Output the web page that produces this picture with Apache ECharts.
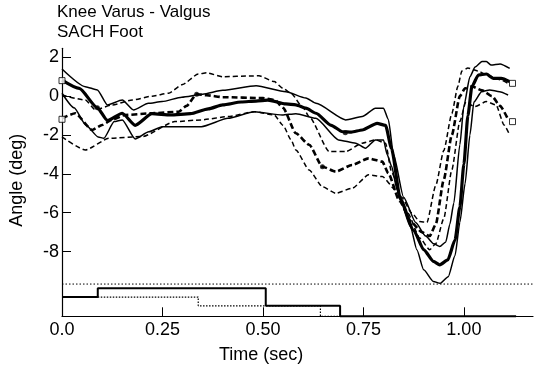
<!DOCTYPE html>
<html><head><meta charset="utf-8">
<script src="https://cdn.jsdelivr.net/npm/echarts@6/dist/echarts.min.js"></script>
<style>html,body{margin:0;padding:0;background:#fff}#c{width:535px;height:367px}</style>
</head><body><div id="c"></div>
<script>
// ---- data (time in sec, angle in deg) ----
var xTicks = [0, 0.25, 0.5, 0.75, 1.0];
var xTickLabels = ['0.0', '0.25', '0.50', '0.75', '1.00'];
var yTicks = [-8, -6, -4, -2, 0, 2];

var solidMean = [[0,0.83],[0.043,0.4],[0.088,-0.6],[0.113,-1.25],[0.15,-0.88],[0.182,-1.5],[0.224,-0.9],[0.27,-0.97],[0.32,-0.9],[0.364,-0.65],[0.40,-0.45],[0.446,-0.3],[0.483,-0.25],[0.512,-0.2],[0.557,-0.4],[0.582,-0.45],[0.607,-0.62],[0.632,-0.88],[0.67,-1.5],[0.698,-1.83],[0.72,-1.85],[0.747,-1.74],[0.784,-1.4],[0.805,-1.5],[0.82,-2.7],[0.842,-5.3],[0.875,-6.9],[0.9,-7.9],[0.924,-8.5],[0.94,-8.68],[0.96,-8.43],[0.978,-7.4],[0.99,-5.7],[1.0,-3.5],[1.01,-1.0],[1.02,0.5],[1.036,1.09],[1.056,1.14],[1.073,0.92],[1.093,0.92],[1.114,0.75]];
var solidUpper = [[0,1.4],[0.058,0.49],[0.088,0.32],[0.113,-0.45],[0.15,-0.2],[0.178,-0.71],[0.215,-0.37],[0.249,-0.28],[0.298,-0.05],[0.35,0.1],[0.40,0.3],[0.483,0.54],[0.557,0.23],[0.607,-0.1],[0.632,-0.37],[0.706,-1.22],[0.747,-1.05],[0.78,-0.62],[0.8,-0.62],[0.812,-1.2],[0.825,-3.0],[0.85,-5.2],[0.88,-6.5],[0.905,-7.2],[0.925,-7.6],[0.94,-7.74],[0.955,-7.5],[0.965,-6.6],[0.975,-5.5],[0.99,-2.5],[1.0,-0.5],[1.015,1.0],[1.028,1.5],[1.045,1.78],[1.056,1.78],[1.068,1.6],[1.09,1.66],[1.114,1.43]];
var solidLower = [[0,0.15],[0.03,-0.6],[0.06,-1.5],[0.09,-2.1],[0.104,-2.17],[0.13,-1.31],[0.15,-1.22],[0.182,-2.2],[0.216,-1.83],[0.249,-1.57],[0.282,-1.57],[0.347,-1.57],[0.413,-1.14],[0.479,-0.8],[0.548,-0.97],[0.582,-0.9],[0.632,-1.14],[0.688,-2.25],[0.731,-2.42],[0.755,-2.68],[0.78,-2.25],[0.8,-2.25],[0.809,-3.0],[0.82,-3.6],[0.834,-4.83],[0.867,-6.71],[0.883,-7.91],[0.9,-8.94],[0.924,-9.54],[0.941,-9.63],[0.961,-9.29],[0.978,-8.2],[0.99,-6.5],[1.003,-4.5],[1.015,-2.0],[1.025,-0.3],[1.044,0.23],[1.064,0.32],[1.089,0.23],[1.11,0.06]];
var dashUpper = [[0,0.06],[0.058,-0.2],[0.083,-0.7],[0.125,-0.45],[0.175,-0.2],[0.224,0.0],[0.265,0.15],[0.3,0.6],[0.339,1.14],[0.36,1.2],[0.4,1.0],[0.47,1.04],[0.49,1.05],[0.528,0.75],[0.55,0.4],[0.57,0.15],[0.6,-0.6],[0.615,-1.05],[0.665,-2.85],[0.706,-2.85],[0.747,-2.42],[0.78,-2.25],[0.805,-2.42],[0.82,-3.9],[0.845,-5.2],[0.87,-6.0],[0.89,-6.45],[0.908,-6.5],[0.93,-4.6],[0.95,-2.8],[0.97,-0.9],[0.985,0.5],[0.995,1.3],[1.01,1.45],[1.035,1.3],[1.056,1.1],[1.09,0.85],[1.11,0.66]];
var dashMean = [[0,-1.14],[0.033,-0.88],[0.075,-1.74],[0.1,-1.48],[0.125,-1.2],[0.157,-0.97],[0.224,-0.88],[0.29,-0.8],[0.31,-0.5],[0.335,0.1],[0.36,0.05],[0.4,-0.05],[0.5,-0.1],[0.53,-0.2],[0.55,-0.6],[0.582,-1.91],[0.615,-2.5],[0.648,-3.63],[0.681,-3.88],[0.722,-3.54],[0.763,-3.2],[0.797,-3.37],[0.812,-3.97],[0.84,-5.4],[0.87,-6.5],[0.895,-7.0],[0.915,-7.2],[0.93,-6.6],[0.95,-4.3],[0.97,-2.0],[0.99,0.0],[1.003,0.4],[1.02,0.5],[1.045,0.3],[1.07,0.0],[1.09,-0.5],[1.11,-1.2]];
var dashLower = [[0,-2.1],[0.058,-2.77],[0.117,-2.17],[0.2,-2.08],[0.281,-1.31],[0.347,-1.22],[0.413,-1.05],[0.479,-0.8],[0.528,-0.97],[0.55,-1.5],[0.57,-2.25],[0.582,-2.77],[0.615,-3.8],[0.648,-4.66],[0.681,-5.0],[0.722,-4.74],[0.763,-4.05],[0.797,-4.14],[0.83,-4.83],[0.86,-6.0],[0.89,-7.3],[0.915,-7.9],[0.93,-7.6],[0.95,-6.3],[0.97,-3.8],[0.99,-1.3],[1.005,-0.3],[1.027,-0.54],[1.056,-0.28],[1.08,-0.45],[1.1,-1.48],[1.114,-2.0]];
var eventDots = [[0.088,-0.6],[0.335,0.1],[0.648,-3.63],[0.705,-1.88]];
var endSquares = [[0,0.8],[0,-1.19],[1.121,0.66],[1.121,-1.31]];
var refLevel = -9.67;
var footSolid = [[0,-10.34],[0.089,-9.88],[0.507,-10.79],[0.692,-11.33],[1.13,-11.33]];
var footDotted = [[0.089,-10.34],[0.339,-10.79],[0.643,-11.33],[0.692,-11.33]];

var X_MIN = 0, X_MAX = 1.172, Y_MIN = -11.33, Y_MAX = 2.464;
var FONT = "'Liberation Sans', Arial, Helvetica, sans-serif";

function curve(data, width, dash) {
  return {
    type: 'line', data: data, showSymbol: false, smooth: 0.2, smoothMonotone: 'x',
    animation: false, silent: true, z: 3,
    lineStyle: { color: '#000', width: width, type: dash ? dash : 'solid' }
  };
}

var chart = echarts.init(document.getElementById('c'), null, { renderer: 'canvas' });
chart.setOption({
  backgroundColor: '#fff',
  animation: false,
  title: {
    text: 'Knee Varus - Valgus\nSACH Foot', left: 57, top: 2, padding: 0,
    textStyle: { fontFamily: FONT, fontSize: 17, fontWeight: 'normal', color: '#000', lineHeight: 20 }
  },
  graphic: [{
    type: 'text', left: 263 - 44, top: 346, silent: true,
    style: { text: 'Time (sec)', fontFamily: FONT, fontSize: 18, fill: '#000' }
  }],
  grid: { left: 59.5, right: 2, top: 48.3, bottom: 50.7 },
  xAxis: {
    type: 'value', min: X_MIN, max: X_MAX,
    axisLine: { show: true, onZero: false, lineStyle: { color: '#000', width: 1.2 } },
    axisTick: { show: true, inside: true, length: 9, customValues: xTicks, lineStyle: { color: '#000', width: 1 } },
    axisLabel: { customValues: xTicks, margin: 5, fontFamily: FONT, fontSize: 18, color: '#000',
      formatter: function (v) { var i = xTicks.indexOf(v); return i >= 0 ? xTickLabels[i] : ''; } },
    splitLine: { show: false }
  },
  yAxis: {
    type: 'value', min: Y_MIN, max: Y_MAX,
    name: 'Angle (deg)', nameLocation: 'middle', nameGap: 36, nameRotate: 90,
    nameTextStyle: { fontFamily: FONT, fontSize: 18, color: '#000', padding: [0, 0, 0, 4] },
    axisLine: { show: true, onZero: false, lineStyle: { color: '#000', width: 1.2 } },
    axisTick: { show: true, inside: true, length: 9, customValues: yTicks, lineStyle: { color: '#000', width: 1 } },
    axisLabel: { customValues: yTicks, margin: 3, fontFamily: FONT, fontSize: 18, color: '#000' },
    splitLine: { show: false }
  },
  series: [
    { type: 'line', data: [[X_MIN, refLevel], [X_MAX, refLevel]], showSymbol: false, silent: true,
      lineStyle: { color: '#000', width: 1, type: [1.5, 2] }, z: 2 },
    { type: 'line', data: footDotted, step: 'end', showSymbol: false, silent: true, clip: false,
      lineStyle: { color: '#000', width: 1.2, type: [1.5, 1.5] }, z: 2 },
    { type: 'line', data: footSolid, step: 'end', showSymbol: false, silent: true, clip: false,
      lineStyle: { color: '#000', width: 2 }, z: 2 },
    curve(dashUpper, 1.5, [5, 3]),
    curve(dashLower, 1.5, [5, 3]),
    curve(dashMean, 2.6, [6, 3]),
    curve(solidUpper, 1.5),
    curve(solidLower, 1.5),
    curve(solidMean, 3.2),
    { type: 'scatter', data: eventDots, symbol: 'circle', symbolSize: 5, silent: true, z: 4,
      itemStyle: { color: '#000' } },
    { type: 'scatter', data: endSquares, symbol: 'rect', symbolSize: 6, silent: true, clip: false, z: 5,
      itemStyle: { color: '#fff', borderColor: '#000', borderWidth: 1 } }
  ]
});
</script>
</body></html>
